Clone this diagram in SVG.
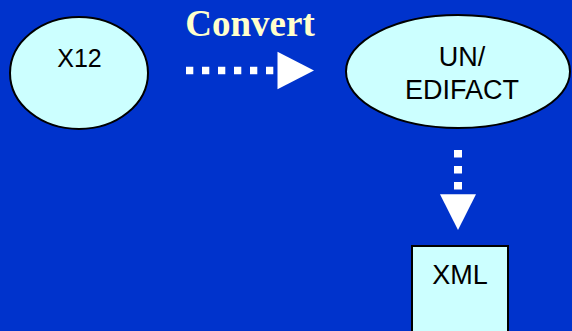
<svg xmlns="http://www.w3.org/2000/svg" width="572" height="331" viewBox="0 0 572 331">
  <style>
    .node { fill: #CCFFFF; stroke: #000000; stroke-width: 2; }
    .lbl { font-family: "Liberation Sans", Arial, sans-serif; fill: #000000; text-anchor: middle; }
    .title { font-family: "Liberation Serif", "Times New Roman", serif; font-weight: bold; fill: #FFFFCC; text-anchor: middle; }
    .dots { stroke: #FFFFFF; fill: none; }
    .head { fill: #FFFFFF; }
  </style>
  <rect x="0" y="0" width="572" height="331" fill="#0033CC"/>
  <text class="title" x="250" y="36" font-size="37">Convert</text>
  <g id="connectors">
    <line class="dots" x1="186" y1="70.5" x2="274" y2="70.5" stroke-width="7.3" stroke-dasharray="7.3 8.7"/>
    <polygon class="head" points="277.5,51.7 314,70.5 277.5,89.3"/>
    <line class="dots" x1="458" y1="150" x2="458" y2="190" stroke-width="8" stroke-dasharray="7.5 8.5"/>
    <polygon class="head" points="440,194.3 476,194.3 458,230"/>
  </g>
  <g id="x12">
    <ellipse class="node" cx="79" cy="73" rx="69" ry="56"/>
    <text class="lbl" x="79.5" y="67" font-size="25">X12</text>
  </g>
  <g id="edifact">
    <ellipse class="node" cx="458" cy="71.5" rx="112" ry="56.5"/>
    <text class="lbl" x="462" y="66" font-size="27">UN/</text>
    <text class="lbl" x="462" y="99" font-size="27">EDIFACT</text>
  </g>
  <g id="xml">
    <rect class="node" x="412" y="246" width="96" height="100"/>
    <text class="lbl" x="460" y="283.5" font-size="27">XML</text>
  </g>
</svg>
